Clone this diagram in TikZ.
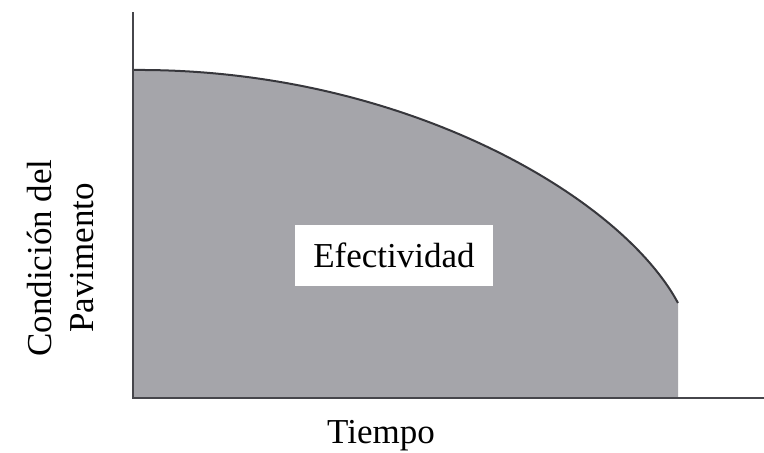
\documentclass[tikz,border=0pt]{standalone}
\usepackage{fontspec}
\setmainfont{Liberation Serif}
\begin{document}
\begin{tikzpicture}[x=1pt,y=-1pt,
  axis/.style={line width=2.2pt,draw={rgb,255:red,70;green,70;blue,75}},
  curve/.style={line width=2pt,draw={rgb,255:red,55;green,55;blue,60}},
  lbl/.style={font=\fontsize{35}{42}\selectfont,inner sep=0pt}]
\useasboundingbox (0,0) rectangle (764,453);
\coordinate (o) at (133,398);
\coordinate (ytop) at (133,12);
\coordinate (xend) at (764,398);
\coordinate (c0) at (133,70);
\coordinate (c1) at (678,303);
\coordinate (c2) at (678,398);
\fill[fill={rgb,255:red,165;green,165;blue,170}] (o) -- (c0) .. controls (400,68) and (620,195) .. (c1) -- (c2) -- cycle;
\draw[curve] (c0) .. controls (400,68) and (620,195) .. (c1);
\draw[axis] (ytop) -- (o) -- (xend);
\node[lbl,fill=white,minimum width=198pt,minimum height=61pt] (ef) at (394,255) {Efectividad};
\node[lbl] (t) at (381,436) {Tiempo};
\node[lbl,rotate=90,align=center,font=\fontsize{35}{42}\selectfont] (y) at (61,258) {Condición del\\Pavimento};
\end{tikzpicture}
\end{document}
